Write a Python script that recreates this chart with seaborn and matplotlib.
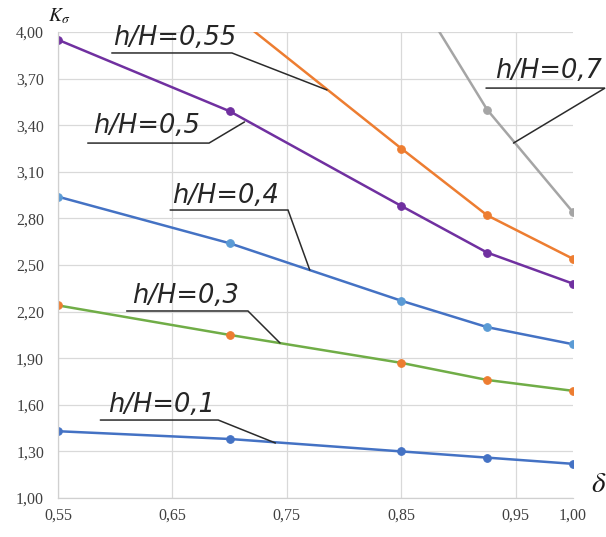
import numpy as np
import pandas as pd
import seaborn as sns
import matplotlib.pyplot as plt

sns.set_style("whitegrid")
plt.rcParams['mathtext.fontset'] = 'stix'

# delta values (x) and K_sigma curves for each h/H
delta = [0.55, 0.70, 0.85, 0.925, 1.00]
k_01 = [1.43, 1.38, 1.30, 1.26, 1.22]
k_03 = [2.24, 2.05, 1.87, 1.76, 1.69]
k_04 = [2.94, 2.64, 2.27, 2.10, 1.99]
k_05 = [3.95, 3.49, 2.88, 2.58, 2.38]
k_055 = [4.13, 3.25, 2.82, 2.54]
k_07 = [4.40, 3.50, 2.84]

x_ticks = [0.55, 0.65, 0.75, 0.85, 0.95, 1.00]
y_ticks = [1.00, 1.30, 1.60, 1.90, 2.20, 2.50, 2.80, 3.10, 3.40, 3.70, 4.00]
x_labels = ['0,55', '0,65', '0,75', '0,85', '0,95', '1,00']
y_labels = ['1,00', '1,30', '1,60', '1,90', '2,20', '2,50', '2,80', '3,10', '3,40', '3,70', '4,00']

fig = plt.figure(figsize=(6.06, 5.37), dpi=100)
ax = fig.add_axes([0.0957, 0.0726, 0.8498, 0.8678])

# (x, y, line colour, marker colour)
series = [
    (delta, k_01, '#4472C4', '#4472C4'),
    (delta, k_03, '#70AD47', '#ED7D31'),
    (delta, k_04, '#4472C4', '#5B9BD5'),
    (delta, k_05, '#7030A0', '#7030A0'),
    (delta[1:], k_055, '#ED7D31', '#ED7D31'),
    (delta[2:], k_07, '#A5A5A5', '#A5A5A5'),
]
for xs, ys, lc, mc in series:
    sns.lineplot(x=xs, y=ys, ax=ax, color=lc, lw=1.8, marker='o', markersize=5.5,
                 markerfacecolor=mc, markeredgecolor=mc, sort=False)

ax.set_xlim(0.55, 1.00)
ax.set_ylim(1.00, 4.00)
ax.set_xticks(x_ticks)
ax.set_yticks(y_ticks)
ax.set_xticklabels(x_labels)
ax.set_yticklabels(y_labels)
ax.tick_params(axis='both', length=0, labelsize=11.5, labelcolor='#404040',
               labelfontfamily='Liberation Serif')
ax.tick_params(axis='x', pad=7)
ax.tick_params(axis='y', pad=10)
ax.grid(True, color='#d9d9d9', lw=0.9)
ax.xaxis.get_gridlines()[-1].set_visible(False)
for s in ['top', 'right']:
    ax.spines[s].set_visible(False)
for s in ['left', 'bottom']:
    ax.spines[s].set_color('#d0d0d0')
    ax.spines[s].set_linewidth(0.9)

# curve labels: text, underline and leader line
labels = [
    ('h/H=0,55', (0.598, 3.916), (0.597, 0.702, 3.865), (0.785, 3.627)),
    ('h/H=0,5', (0.581, 3.350), (0.576, 0.682, 3.285), (0.713, 3.421)),
    ('h/H=0,4', (0.650, 2.899), (0.648, 0.751, 2.854), (0.770, 2.468)),
    ('h/H=0,3', (0.615, 2.255), (0.610, 0.716, 2.204), (0.744, 1.998)),
    ('h/H=0,1', (0.594, 1.554), (0.587, 0.690, 1.502), (0.740, 1.354)),
    ('h/H=0,7', (0.932, 3.704), (0.924, 1.028, 3.639), (0.948, 3.285)),
]
for txt, (tx, ty), (u0, u1, uy), (px, py) in labels:
    ax.text(tx, ty, txt, fontsize=18.5, style='italic', family='DejaVu Sans',
            color='#262626', va='baseline', ha='left', clip_on=False)
    ax.plot([u0, u1, px], [uy, uy, py], color='#2b2b2b', lw=1.1, clip_on=False,
            solid_joinstyle='miter')

ax.text(-0.02, 1.012, r'$K_\sigma$', transform=ax.transAxes, fontsize=14,
        ha='left', va='bottom', color='#1a1a1a')
ax.text(1.035, 0.0, r'$\delta$', transform=ax.transAxes, fontsize=21,
        ha='left', va='bottom', color='#1a1a1a')

fig.savefig('out.png', dpi=100)
